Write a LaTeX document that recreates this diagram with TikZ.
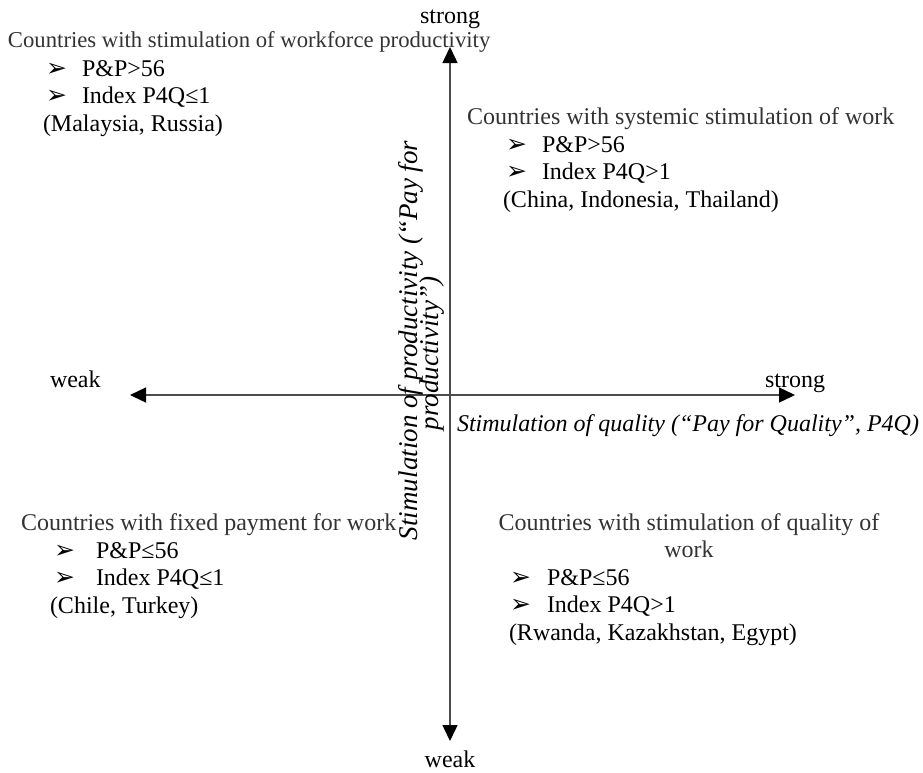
\documentclass[tikz,border=0pt]{standalone}
\usepackage{fontspec}
\setmainfont{Liberation Serif}
\newfontfamily\symfont{DejaVu Sans}
\usetikzlibrary{arrows.meta}
\newcommand{\bul}{{\symfont\fontsize{25}{26}\selectfont ➢}}
\begin{document}
\begin{tikzpicture}[x=1pt,y=-1pt,
  every node/.style={inner sep=0pt,outer sep=0pt,font=\fontsize{24}{27.6}\selectfont},
  ttl/.style={anchor=base west,text=black!80},
  txt/.style={anchor=base west,text=black},
  vl/.style={rotate=90,anchor=base west,font=\fontsize{27}{27}\selectfont\itshape},
  axis/.style={draw=black!70,line width=1.4pt,{Triangle[length=16pt,width=15pt,color=black]}-{Triangle[length=16pt,width=15pt,color=black]}}]
\useasboundingbox (0,0) rectangle (923,772);
% axes
\coordinate (vtop) at (450,47);
\coordinate (vbot) at (450,741);
\coordinate (hl) at (130,395);
\coordinate (hr) at (795,395);
\draw[axis] (vbot) -- (vtop);
\draw[axis] (hl) -- (hr);
% axis labels
\node[anchor=base] (st) at (450,23) {strong};
\node[anchor=base] (wb) at (450,767) {weak};
\node[anchor=base west] (wl) at (50,387) {weak};
\node[anchor=base west] (sr) at (765,387) {strong};
\node[anchor=base west,font=\fontsize{24}{27.6}\selectfont\itshape] (hlab) at (457,431) {Stimulation of quality (“Pay for Quality”, P4Q)};
\node[vl] (vlab1) at (417,540) {Stimulation of productivity (“Pay for};
\node[vl] (vlab2) at (438,430) {productivity”)};
% TL
\node[ttl,font=\fontsize{22.7}{27.6}\selectfont] (tlt) at (8,47) {Countries with stimulation of workforce productivity};
\node[txt] (tlb1) at (46,76) {\bul};
\node[txt] (tl1) at (82,76) {P\&P>56};
\node[txt] (tlb2) at (46,103.5) {\bul};
\node[txt] (tl2) at (82,103.5) {Index P4Q≤1};
\node[txt] (tl3) at (43,131) {(Malaysia, Russia)};
% TR
\node[ttl] (trt) at (467,124.5) {Countries with systemic stimulation of work};
\node[txt] (trb1) at (506,152) {\bul};
\node[txt] (tr1) at (542,152) {P\&P>56};
\node[txt] (trb2) at (506,179.5) {\bul};
\node[txt] (tr2) at (542,179.5) {Index P4Q>1};
\node[txt] (tr3) at (503,207) {(China, Indonesia, Thailand)};
% BL
\node[ttl] (blt) at (21,530) {Countries with fixed payment for work};
\node[txt] (blb1) at (54,558) {\bul};
\node[txt] (bl1) at (96,558) {P\&P≤56};
\node[txt] (blb2) at (54,585.5) {\bul};
\node[txt] (bl2) at (96,585.5) {Index P4Q≤1};
\node[txt] (bl3) at (50,613) {(Chile, Turkey)};
% BR
\node[anchor=base,text=black!80] (brt) at (689,530) {Countries with stimulation of quality of};
\node[anchor=base,text=black!80] (brt2) at (689,557.5) {work};
\node[txt] (brb1) at (510,585) {\bul};
\node[txt] (br1) at (547,585) {P\&P≤56};
\node[txt] (brb2) at (510,612.5) {\bul};
\node[txt] (br2) at (547,612.5) {Index P4Q>1};
\node[txt] (br3) at (509,640) {(Rwanda, Kazakhstan, Egypt)};
\end{tikzpicture}
\end{document}
